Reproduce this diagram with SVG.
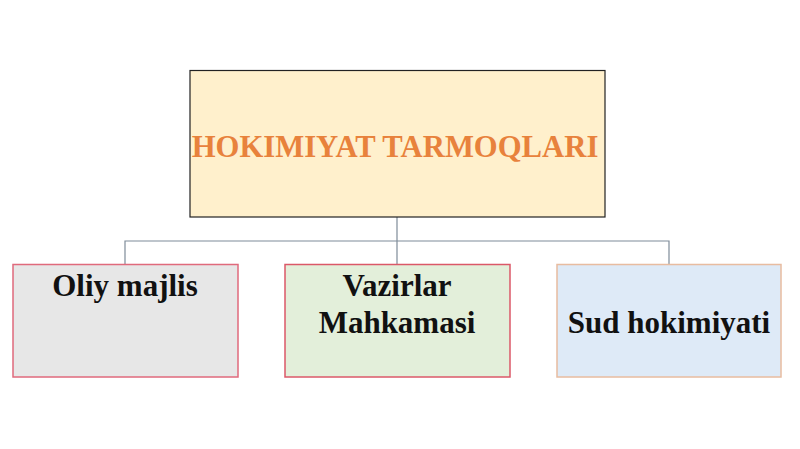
<svg xmlns="http://www.w3.org/2000/svg" width="800" height="449" viewBox="0 0 800 449">
<style>
.lbl{font-family:"Liberation Serif","Times New Roman",serif;font-weight:bold;font-size:31px;fill:#111;text-anchor:middle}
.title{font-family:"Liberation Serif","Times New Roman",serif;font-weight:bold;font-size:30.7px;fill:#E8823C;text-anchor:middle}
.conn{stroke:#7F8C99;stroke-width:1.2;fill:none}
</style>
<rect width="800" height="449" fill="#FFFFFF"/>
<g id="connectors">
<path class="conn" d="M397,217 V264 M125,264 V241 H669 V264"/>
</g>
<g id="root">
<rect x="190" y="70.5" width="415" height="146.5" fill="#FFF0CC" stroke="#222" stroke-width="1.2"/>
<text class="title" x="395" y="157">HOKIMIYAT TARMOQLARI</text>
</g>
<g id="oliy">
<rect x="13" y="264.5" width="225" height="112.5" fill="#E7E7E7" stroke="#E06A7C" stroke-width="1.5"/>
<text class="lbl" x="125" y="296">Oliy majlis</text>
</g>
<g id="vazirlar">
<rect x="285" y="264.5" width="225" height="112.5" fill="#E3EFDA" stroke="#DB5868" stroke-width="1.5"/>
<text class="lbl" x="397" y="296">Vazirlar</text>
<text class="lbl" x="397" y="333">Mahkamasi</text>
</g>
<g id="sud">
<rect x="557" y="264.5" width="224" height="112.5" fill="#DEEAF7" stroke="#E8BCA0" stroke-width="1.5"/>
<text class="lbl" x="669" y="333">Sud hokimiyati</text>
</g>
</svg>
